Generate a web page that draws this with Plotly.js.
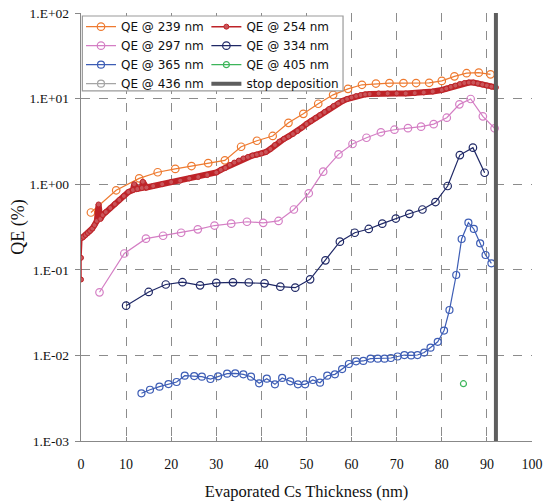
<!DOCTYPE html>
<html>
<head>
<meta charset="utf-8">
<script src="https://cdn.plot.ly/plotly-3.0.1.min.js"></script>
<style>html,body{margin:0;padding:0;background:#fff;}#chart{width:546px;height:503px;}</style>
</head>
<body>
<div id="chart"></div>
<script>
// ---- data ----
const x239 = [2.2, 7.8, 12.9, 17.0, 20.9, 24.5, 28.2, 31.9, 35.5, 39.0, 42.5, 46.0, 49.3, 52.6, 55.9, 59.2, 62.3, 65.4, 68.4, 71.5, 74.3, 77.2, 80.0, 82.8, 85.5, 88.2, 90.8];
const y239 = [0.467, 0.849, 1.17, 1.38, 1.51, 1.63, 1.76, 1.90, 2.74, 3.22, 3.66, 5.21, 6.64, 8.71, 11.07, 13.0, 14.5, 15.0, 15.2, 15.2, 15.2, 15.3, 16.1, 18.2, 19.8, 20.1, 19.2];

const x254 = [0, 0, 0.2, 0.5, 1.0, 1.5, 2.0, 2.5, 3.0, 3.5, 3.9, 4.3, 4.8, 5.5, 6.5, 7.5, 8.5, 9.5, 10.5, 11.5, 11.8, 12.5, 13.5, 13.7, 14.5, 16, 18, 20, 22, 24, 26, 28, 30, 31, 32, 33, 34, 35, 36, 37, 38, 39, 40, 41, 42, 43, 44, 45, 46, 47, 48, 49, 50, 51, 52, 53, 54, 55, 56, 57, 58, 59, 60, 61, 62, 63, 64, 66, 68, 70, 72, 74, 76, 78, 80, 81, 82, 83, 84, 85, 86, 87, 88, 89, 90, 91, 92];
const y254 = [0.077, 0.138, 0.235, 0.242, 0.255, 0.269, 0.284, 0.303, 0.333, 0.372, 0.58, 0.392, 0.436, 0.473, 0.527, 0.587, 0.654, 0.728, 0.811, 0.855, 1.0, 0.879, 0.903, 1.07, 0.914, 0.953, 1.0, 1.06, 1.10, 1.167, 1.214, 1.28, 1.37, 1.47, 1.55, 1.68, 1.79, 1.89, 2.0, 2.08, 2.16, 2.22, 2.28, 2.38, 2.58, 2.87, 3.15, 3.38, 3.61, 3.86, 4.18, 4.59, 5.05, 5.47, 5.93, 6.43, 6.97, 7.56, 8.2, 8.77, 9.38, 9.89, 10.3, 10.7, 11.0, 11.2, 11.3, 11.5, 11.5, 11.5, 11.5, 11.6, 11.8, 12.1, 12.6, 13.1, 13.7, 14.2, 14.8, 15.2, 15.4, 15.4, 15.0, 14.6, 14.2, 13.8, 13.5];

const x297 = [4.1, 9.6, 14.4, 18.2, 22.2, 25.9, 29.6, 33.3, 36.8, 40.4, 43.8, 47.2, 50.5, 53.7, 57.1, 60.2, 63.3, 66.5, 69.5, 72.5, 75.4, 78.2, 81.1, 83.9, 86.4, 89.1, 91.7];
const y297 = [0.0546, 0.155, 0.231, 0.250, 0.271, 0.297, 0.329, 0.346, 0.364, 0.354, 0.372, 0.506, 0.783, 1.40, 2.23, 2.95, 3.49, 4.04, 4.33, 4.51, 4.70, 5.03, 5.98, 8.57, 9.89, 6.21, 4.50];

const x334 = [10.0, 15.0, 18.8, 22.5, 26.4, 30.0, 33.7, 37.2, 40.7, 44.2, 47.5, 50.8, 54.2, 57.4, 60.7, 63.8, 66.8, 69.8, 72.8, 75.7, 78.6, 81.3, 84.0, 86.9, 89.5];
const y334 = [0.0381, 0.0551, 0.0673, 0.0716, 0.0659, 0.0705, 0.0714, 0.0711, 0.0695, 0.0635, 0.0618, 0.0774, 0.129, 0.213, 0.271, 0.300, 0.346, 0.397, 0.451, 0.506, 0.619, 0.953, 2.19, 2.67, 1.36];

const x365 = [13.4, 15.3, 17.4, 19.4, 21.2, 23.0, 25.1, 26.8, 28.7, 30.4, 32.4, 34.2, 36.0, 37.7, 39.5, 41.2, 43.0, 44.6, 46.4, 48.1, 49.7, 51.4, 53.0, 54.6, 56.3, 57.9, 59.4, 61.0, 62.6, 64.2, 65.8, 67.3, 68.7, 70.2, 71.7, 73.2, 74.6, 76.1, 77.5, 79.1, 80.5, 81.7, 83.2, 84.4, 85.9, 87.1, 88.5, 89.7, 91.0];
const y365 = [0.00361, 0.00397, 0.00431, 0.00463, 0.00489, 0.00579, 0.00574, 0.00564, 0.00530, 0.00570, 0.00611, 0.00618, 0.00601, 0.00564, 0.00472, 0.00535, 0.00459, 0.00545, 0.00498, 0.00459, 0.00459, 0.00516, 0.00480, 0.00579, 0.00601, 0.00693, 0.00794, 0.00853, 0.00861, 0.00915, 0.00915, 0.00915, 0.00933, 0.00971, 0.0101, 0.00998, 0.0101, 0.0108, 0.0123, 0.0144, 0.0195, 0.0339, 0.0869, 0.229, 0.355, 0.300, 0.204, 0.149, 0.119];

const x405 = [84.8];
const y405 = [0.00467];

// 436 nm: no measured points visible in the plot (legend entry only)
const x436 = [null];
const y436 = [null];

const xStop = [92, 92];
const yStop = [0.001, 100];

const yTickVals = [0.001, 0.01, 0.1, 1, 10, 100];
const yTickText = ['1.E-03', '1.E-02', '1.E-01', '1.E+00', '1.E+01', '1.E+02'];
const xTickVals = [0, 10, 20, 30, 40, 50, 60, 70, 80, 90, 100];

// ---- styles ----
const cOrange = '#EE7A30', cRed = '#BE2328', cPink = '#D47EC4', cNavy = '#1F2866',
      cBlue = '#3D5DB5', cGreen = '#3CB55A', cGray = '#A5A5A5', cStop = '#5E5E5E';

function series(x, y, name, color, size, legend, extra) {
  return Object.assign({
    x: x, y: y, name: name, type: 'scatter', mode: 'lines+markers',
    line: {color: color, width: 1.2},
    marker: {symbol: 'circle-open', size: size, color: color, line: {width: 1.2, color: color}},
    legend: legend
  }, extra || {});
}

const traces = [
  series(x239, y239, 'QE @ 239 nm', cOrange, 7.5, 'legend'),
  {x: x254.slice(2), y: y254.slice(2), type: 'scatter', mode: 'lines', line: {color: cRed, width: 6}, showlegend: false, hoverinfo: 'skip'},
  series(x254, y254, 'QE @ 254 nm', cRed, 5, 'legend2', {line: {color: cRed, width: 1.5}, marker: {symbol: 'circle', size: 5, color: '#C9555A', line: {width: 1, color: cRed}}}),
  series(x297, y297, 'QE @ 297 nm', cPink, 7.5, 'legend'),
  series(x334, y334, 'QE @ 334 nm', cNavy, 7.5, 'legend2'),
  series(x365, y365, 'QE @ 365 nm', cBlue, 7, 'legend'),
  series(x405, y405, 'QE @ 405 nm', cGreen, 6, 'legend2'),
  series(x436, y436, 'QE @ 436 nm', cGray, 7, 'legend'),
  {x: xStop, y: yStop, name: 'stop deposition', type: 'scatter', mode: 'lines', line: {color: cStop, width: 4}, legend: 'legend2'}
];

const serif = 'Liberation Serif, Times New Roman, serif';
const legFont = {family: 'DejaVu Sans, sans-serif', size: 12, color: '#111'};

const layout = {
  width: 546, height: 503,
  margin: {l: 81, r: 14, t: 13, b: 62},
  paper_bgcolor: '#fff', plot_bgcolor: '#fff',
  showlegend: true,
  xaxis: {
    range: [0, 100], tickvals: xTickVals, ticks: 'inside', ticklen: 4, tickcolor: '#888',
    showline: true, linecolor: '#888', linewidth: 1.2,
    showgrid: true, gridcolor: '#8c8c8c', griddash: 'dash', gridwidth: 1,
    zeroline: false, ticklabelstandoff: 10,
    tickfont: {family: serif, size: 14, color: '#111'},
    title: {text: 'Evaporated Cs Thickness (nm)', font: {family: serif, size: 16.5, color: '#111'}, standoff: 14}
  },
  yaxis: {
    type: 'log', range: [-3, 2], tickvals: yTickVals, ticktext: yTickText,
    ticks: 'outside', ticklen: 5, tickcolor: '#888',
    showline: true, linecolor: '#888', linewidth: 1.2,
    showgrid: true, gridcolor: '#8c8c8c', griddash: 'dash', gridwidth: 1,
    zeroline: false, ticklabelstandoff: 3,
    tickfont: {family: serif, size: 13.5, color: '#111'},
    title: {text: 'QE (%)', font: {family: serif, size: 18, color: '#111'}, standoff: 0}
  },
  shapes: [
    {type: 'rect', xref: 'paper', yref: 'paper', x0: 0.003, x1: 0.581, y0: 0.818, y1: 0.993,
     fillcolor: '#fff', line: {color: '#9a9a9a', width: 1.2}, layer: 'above'}
  ],
  legend: {x: 0.0, y: 1.002, xanchor: 'left', yanchor: 'top', bgcolor: 'rgba(0,0,0,0)',
           borderwidth: 0, font: legFont, tracegroupgap: 0, itemwidth: 30},
  legend2: {x: 0.278, y: 1.002, xanchor: 'left', yanchor: 'top', bgcolor: 'rgba(0,0,0,0)',
            borderwidth: 0, font: legFont, tracegroupgap: 0, itemwidth: 30}
};

Plotly.newPlot('chart', traces, layout, {displayModeBar: false, staticPlot: true});
</script>
</body>
</html>
